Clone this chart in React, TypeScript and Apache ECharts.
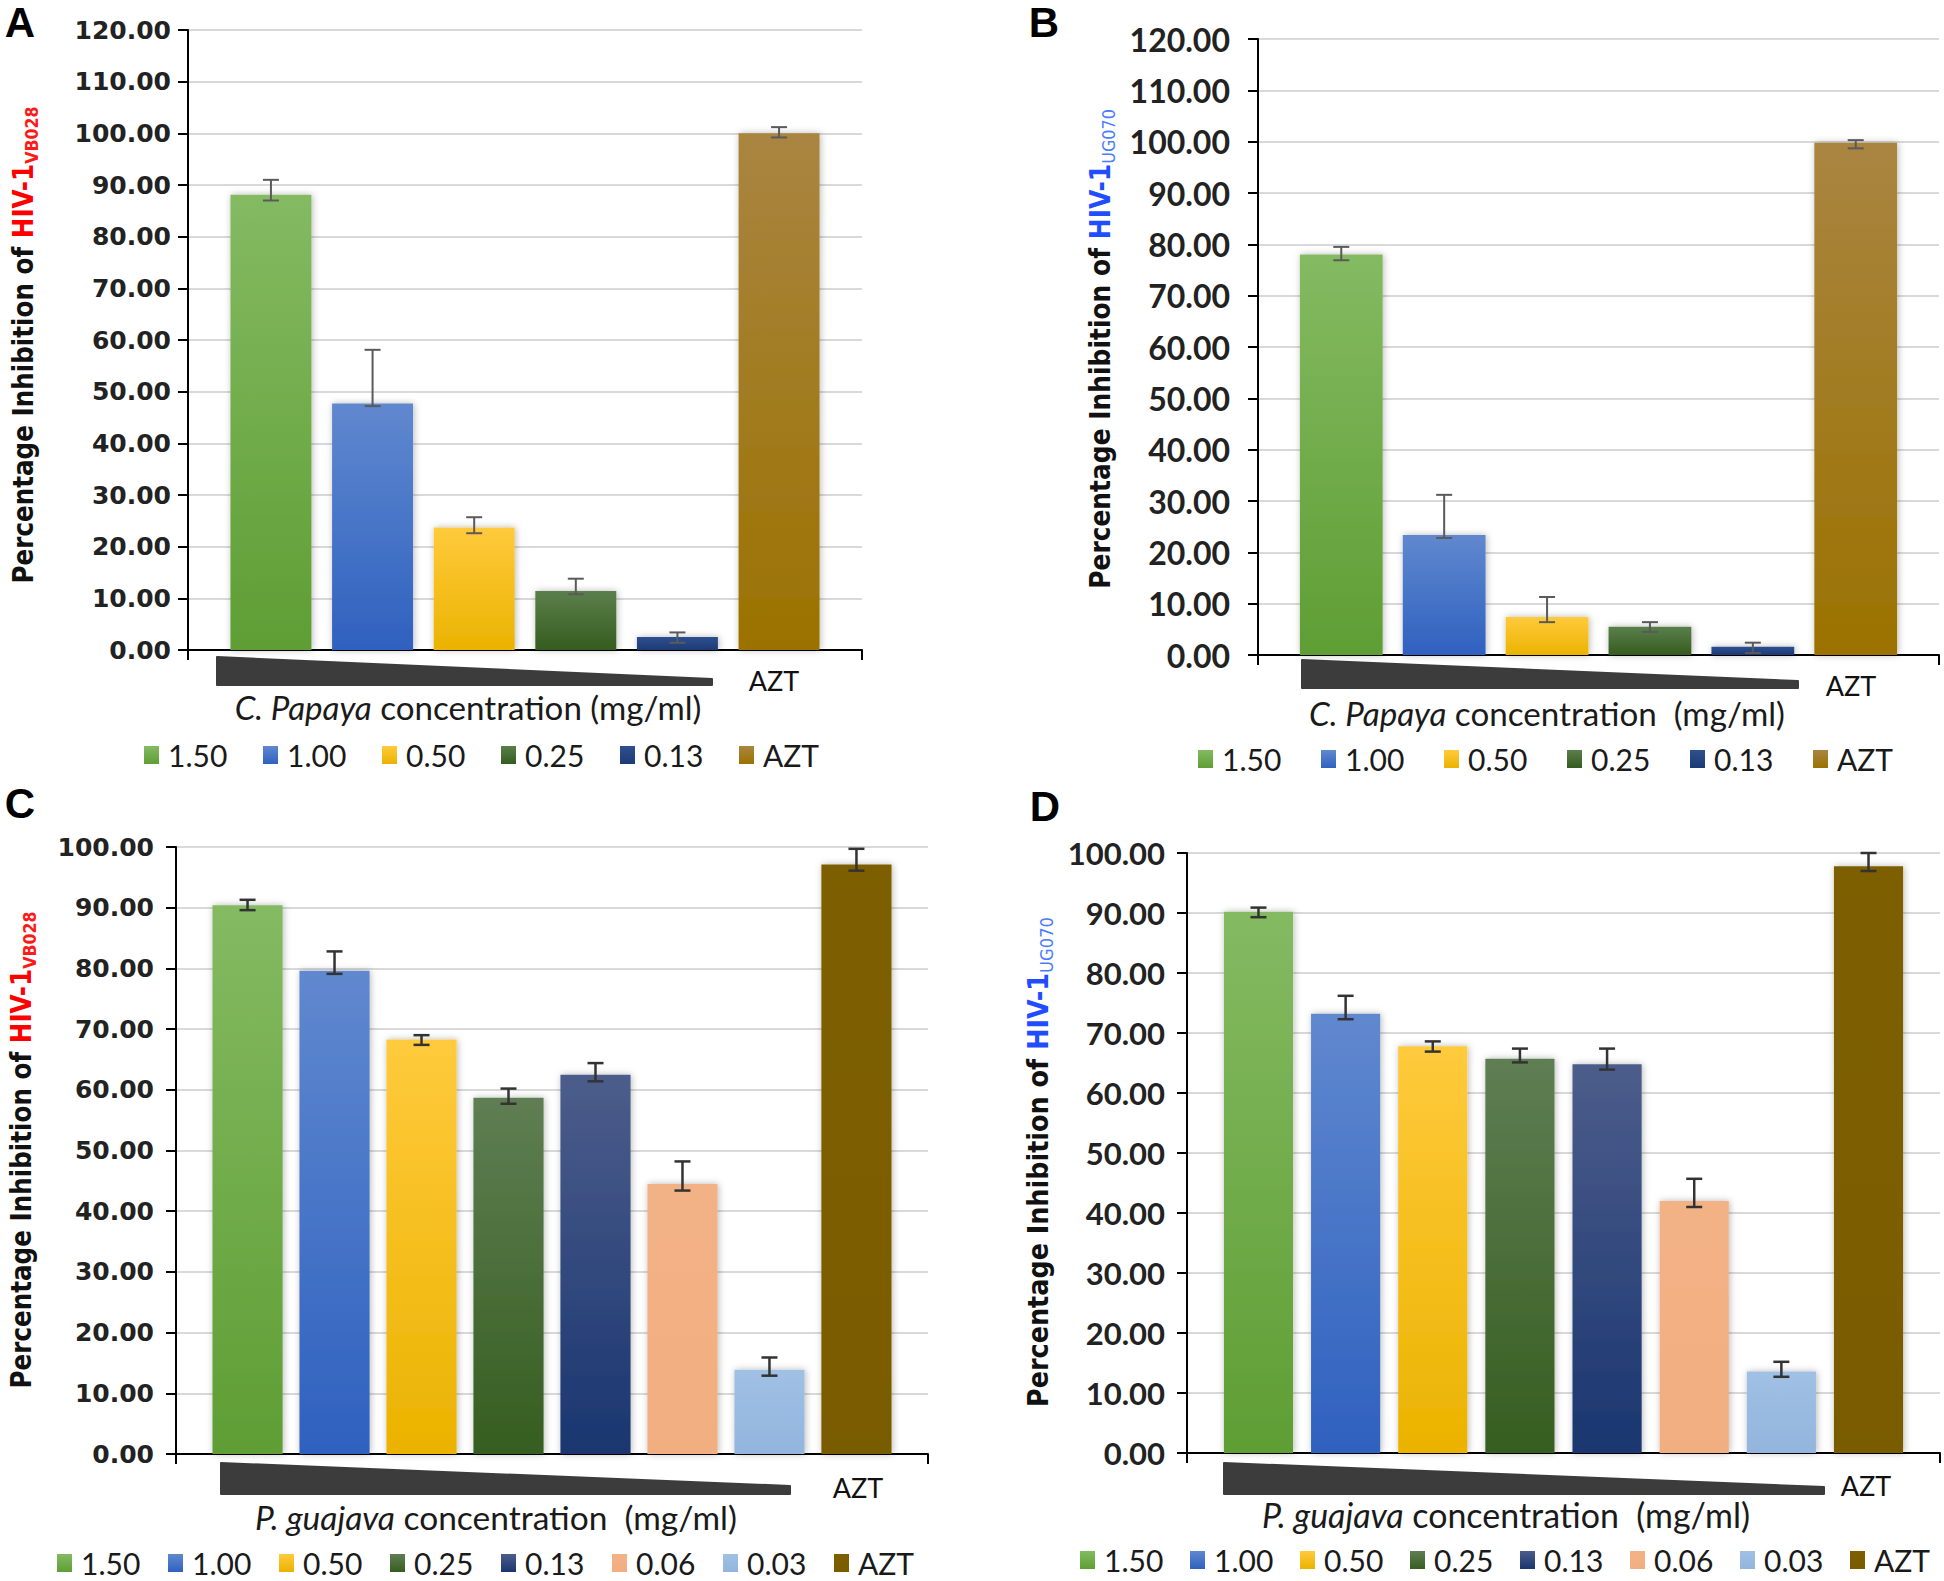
import React, { useEffect, useRef } from "react";
import * as echarts from "echarts";

// ---------------- DATA ----------------
const CATEGORIES_AB = ["1.50", "1.00", "0.50", "0.25", "0.13", "AZT"];
const CATEGORIES_CD = ["1.50", "1.00", "0.50", "0.25", "0.13", "0.06", "0.03", "AZT"];

const VALUES_A = [88.1, 47.7, 23.7, 11.4, 2.5, 100.0];
const ERR_LOW_A = [87.0, 47.2, 22.6, 10.8, 1.4, 99.2];
const ERR_HIGH_A = [91.0, 58.1, 25.7, 13.8, 3.4, 101.2];

const VALUES_B = [78.0, 23.4, 7.4, 5.5, 1.6, 99.8];
const ERR_LOW_B = [76.9, 22.8, 6.4, 4.5, 0.4, 98.7];
const ERR_HIGH_B = [79.5, 31.2, 11.3, 6.4, 2.4, 100.3];

const VALUES_C = [90.4, 79.6, 68.3, 58.7, 62.5, 44.5, 13.9, 97.1];
const ERR_LOW_C = [89.6, 79.1, 67.4, 57.7, 61.4, 43.4, 12.9, 96.1];
const ERR_HIGH_C = [91.3, 82.8, 69.0, 60.2, 64.4, 48.2, 15.9, 99.7];

const VALUES_D = [90.2, 73.2, 67.8, 65.7, 64.8, 42.0, 13.6, 97.8];
const ERR_LOW_D = [89.3, 72.3, 66.9, 65.1, 63.9, 41.0, 12.7, 97.0];
const ERR_HIGH_D = [90.9, 76.2, 68.6, 67.4, 67.4, 45.7, 15.2, 100.0];

const Y_MAX_AB = 120;
const Y_MAX_CD = 100;
const Y_STEP = 10;

// ---------------- STYLES ----------------
const COLORS_AB: Record<string, [string, string]> = {
  "1.50": ["#84ba62", "#5f9e34"],
  "1.00": ["#6088cf", "#2f61bf"],
  "0.50": ["#ffca3c", "#ebb300"],
  "0.25": ["#5b7f4b", "#355c1f"],
  "0.13": ["#2e5090", "#1d3a74"],
  AZT: ["#a98541", "#9b7200"],
};
const COLORS_CD: Record<string, [string, string]> = {
  "1.50": ["#84ba62", "#5f9e34"],
  "1.00": ["#6088cf", "#2f61bf"],
  "0.50": ["#ffca3c", "#ebb300"],
  "0.25": ["#5f7e53", "#365e20"],
  "0.13": ["#4c5d8b", "#1a3670"],
  "0.06": ["#f3b286", "#f1ae80"],
  "0.03": ["#a0c0e4", "#93b5dd"],
  AZT: ["#7d5f00", "#7a5c00"],
};

let measureCtx: CanvasRenderingContext2D | null = null;
function textWidth(text: string, font: string): number {
  if (!measureCtx) {
    const c = document.createElement("canvas");
    measureCtx = c.getContext("2d");
  }
  measureCtx!.font = font;
  return measureCtx!.measureText(text).width;
}

interface PanelCfg {
  letter: string;
  box: { left: number; top: number; w: number; h: number };
  cats: string[];
  values: number[];
  lo: number[];
  hi: number[];
  colors: Record<string, [string, string]>;
  yMax: number;
  grid: { left: number; top: number; width: number; height: number };
  yLabelFamily: string;
  yLabelSize: number;
  yLabelMargin: number;
  legend: { left: number; top: number; spacing: number };
  barCatGap: number;
  barGap: number;
  errColor: string;
  errWidth: number;
  xTitle: { italic: string; rest: string; x: number; y: number; width: number };
  azt: { x: number; y: number };
  wedge: { x1: number; x2: number; yTop: number; yRightTop: number; yBottom: number };
  yTitle: { x: number; y: number; length: number; strainColor: string; subColor: string; sub: string; subBold: boolean };
  letterPos: { x: number; y: number };
}

const PANELS: PanelCfg[] = [
  {
    letter: "A",
    box: { left: 0, top: 0, w: 972, h: 780 },
    cats: CATEGORIES_AB,
    values: VALUES_A,
    lo: ERR_LOW_A,
    hi: ERR_HIGH_A,
    colors: COLORS_AB,
    yMax: Y_MAX_AB,
    grid: { left: 188, top: 30, width: 674, height: 620 },
    yLabelFamily: '"DejaVu Sans"',
    yLabelSize: 25,
    yLabelMargin: 17,
    legend: { left: 139, top: 735, spacing: 119 },
    barCatGap: 12.6,
    barGap: 25.5,
    errColor: "#5a5a5a",
    errWidth: 2,
    xTitle: { italic: "C. Papaya", rest: " concentration (mg/ml)", x: 468, y: 707, width: 467 },
    azt: { x: 774, y: 680 },
    wedge: { x1: 217, x2: 712, yTop: 657, yRightTop: 679, yBottom: 685 },
    yTitle: { x: 23, y: 345, length: 477, strainColor: "#ff0000", subColor: "#ff1a1a", sub: "VB028", subBold: true },
    letterPos: { x: 20, y: 22 },
  },
  {
    letter: "B",
    box: { left: 972, top: 0, w: 972, h: 780 },
    cats: CATEGORIES_AB,
    values: VALUES_B,
    lo: ERR_LOW_B,
    hi: ERR_HIGH_B,
    colors: COLORS_AB,
    yMax: Y_MAX_AB,
    grid: { left: 286, top: 39, width: 681, height: 616 },
    yLabelFamily: "Lato",
    yLabelSize: 32,
    yLabelMargin: 28,
    legend: { left: 221, top: 739, spacing: 123 },
    barCatGap: 12.3,
    barGap: 24.3,
    errColor: "#5a5a5a",
    errWidth: 2,
    xTitle: { italic: "C. Papaya", rest: " concentration  (mg/ml)", x: 575, y: 713, width: 476 },
    azt: { x: 879, y: 685 },
    wedge: { x1: 330, x2: 826, yTop: 660, yRightTop: 681, yBottom: 688 },
    yTitle: { x: 128, y: 349, length: 480, strainColor: "#1f4dff", subColor: "#4a7cff", sub: "UG070", subBold: false },
    letterPos: { x: 72, y: 22 },
  },
  {
    letter: "C",
    box: { left: 0, top: 780, w: 972, h: 801 },
    cats: CATEGORIES_CD,
    values: VALUES_C,
    lo: ERR_LOW_C,
    hi: ERR_HIGH_C,
    colors: COLORS_CD,
    yMax: Y_MAX_CD,
    grid: { left: 176, top: 67, width: 752, height: 607 },
    yLabelFamily: '"DejaVu Sans"',
    yLabelSize: 25,
    yLabelMargin: 22,
    legend: { left: 52, top: 763, spacing: 111 },
    barCatGap: 9.7,
    barGap: 24,
    errColor: "#333333",
    errWidth: 2.5,
    xTitle: { italic: "P. guajava", rest: " concentration  (mg/ml)", x: 496, y: 737, width: 482 },
    azt: { x: 858, y: 707 },
    wedge: { x1: 221, x2: 790, yTop: 683, yRightTop: 706, yBottom: 714 },
    yTitle: { x: 21, y: 370, length: 477, strainColor: "#ff0000", subColor: "#ff1a1a", sub: "VB028", subBold: true },
    letterPos: { x: 20, y: 23 },
  },
  {
    letter: "D",
    box: { left: 972, top: 780, w: 972, h: 801 },
    cats: CATEGORIES_CD,
    values: VALUES_D,
    lo: ERR_LOW_D,
    hi: ERR_HIGH_D,
    colors: COLORS_CD,
    yMax: Y_MAX_CD,
    grid: { left: 215, top: 73, width: 753, height: 600 },
    yLabelFamily: "Lato",
    yLabelSize: 31,
    yLabelMargin: 22,
    legend: { left: 103, top: 760, spacing: 110 },
    barCatGap: 9.8,
    barGap: 26,
    errColor: "#333333",
    errWidth: 2.5,
    xTitle: { italic: "P. guajava", rest: " concentration  (mg/ml)", x: 534, y: 735, width: 488 },
    azt: { x: 894, y: 705 },
    wedge: { x1: 252, x2: 852, yTop: 683, yRightTop: 707, yBottom: 714 },
    yTitle: { x: 66, y: 382, length: 490, strainColor: "#1f4dff", subColor: "#4a7cff", sub: "UG070", subBold: false },
    letterPos: { x: 73, y: 26 },
  },
];

function buildOption(cfg: PanelCfg): any {
  const n = cfg.cats.length;
  const catGap = cfg.barCatGap;
  const gap = cfg.barGap;

  const barSeries = cfg.cats.map((c, i) => ({
    type: "bar",
    name: c,
    data: [cfg.values[i]],
    barGap: gap + "%",
    barCategoryGap: catGap + "%",
    itemStyle: {
      color: new echarts.graphic.LinearGradient(0, 0, 0, 1, [
        { offset: 0, color: cfg.colors[c][0] },
        { offset: 1, color: cfg.colors[c][1] },
      ]),
      shadowBlur: 7,
      shadowColor: "rgba(0,0,0,0.28)",
      shadowOffsetX: 1,
    },
    emphasis: { disabled: true },
    z: 2,
  }));

  const errSeries = {
    type: "custom",
    name: "error",
    data: cfg.cats.map((_, i) => [0, cfg.lo[i], cfg.hi[i], i]),
    encode: { x: 0, y: [1, 2] },
    z: 10,
    silent: true,
    renderItem: (_params: any, api: any) => {
      const idx = api.value(3);
      const pLo = api.coord([0, api.value(1)]);
      const pHi = api.coord([0, api.value(2)]);
      const band = api.size([1, 0])[0];
      const usable = band * (1 - catGap / 100);
      const bw = usable / (n + (n - 1) * (gap / 100));
      const x = pLo[0] - usable / 2 + bw / 2 + idx * bw * (1 + gap / 100);
      const cap = 8;
      const st = { stroke: cfg.errColor, lineWidth: cfg.errWidth };
      return {
        type: "group",
        children: [
          { type: "line", shape: { x1: x, y1: pHi[1], x2: x, y2: pLo[1] }, style: st },
          { type: "line", shape: { x1: x - cap, y1: pHi[1], x2: x + cap, y2: pHi[1] }, style: st },
          { type: "line", shape: { x1: x - cap, y1: pLo[1], x2: x + cap, y2: pLo[1] }, style: st },
        ],
      };
    },
  };

  // legend sizing
  const legendFont = "30px Lato";
  const digitW = textWidth("1.50", legendFont);
  const itemGap = Math.max(4, cfg.legend.spacing - (15 + 5 + 4 + digitW));

  // x title sizing
  const baseX = 30;
  const wX =
    textWidth(cfg.xTitle.italic, `italic ${baseX}px Lato`) + textWidth(cfg.xTitle.rest, `${baseX}px Lato`);
  const fsX = (baseX * cfg.xTitle.width) / wX;

  // y title sizing
  const mainFont = 'bold 28px "DejaVu Sans"';
  const subFont = `${cfg.yTitle.subBold ? "bold " : ""}18px "DejaVu Sans"`;
  const wY =
    textWidth("Percentage Inhibition of ", mainFont) +
    textWidth("HIV-1", mainFont) +
    textWidth(cfg.yTitle.sub, subFont);
  const scaleY = cfg.yTitle.length / wY;

  const w = cfg.wedge;

  return {
    animation: false,
    backgroundColor: "#ffffff",
    grid: { ...cfg.grid, containLabel: false },
    legend: {
      data: cfg.cats,
      left: cfg.legend.left,
      top: cfg.legend.top,
      orient: "horizontal",
      icon: "rect",
      itemWidth: 15,
      itemHeight: 18,
      itemGap,
      selectedMode: false,
      itemStyle: { shadowBlur: 0, shadowColor: "transparent", shadowOffsetX: 0 },
      textStyle: { fontFamily: "Lato", fontSize: 30, color: "#1a1a1a", padding: [0, 0, 0, 4], lineHeight: 26 },
    },
    xAxis: {
      type: "category",
      data: [""],
      axisLine: { show: true, lineStyle: { color: "#000", width: 2 } },
      axisTick: { show: true, inside: false, length: 10, lineStyle: { color: "#000", width: 2 } },
      axisLabel: { show: false },
      splitLine: { show: false },
    },
    yAxis: {
      type: "value",
      min: 0,
      max: cfg.yMax,
      interval: Y_STEP,
      axisLine: { show: true, lineStyle: { color: "#000", width: 2 } },
      axisTick: { show: true, inside: false, length: 10, lineStyle: { color: "#000", width: 2 } },
      axisLabel: {
        formatter: (v: number) => v.toFixed(2),
        fontFamily: cfg.yLabelFamily,
        fontWeight: "bold",
        fontSize: cfg.yLabelSize,
        color: "#222",
        margin: cfg.yLabelMargin,
      },
      splitLine: { show: true, lineStyle: { color: "#d9d9d9", width: 2 } },
    },
    series: [...barSeries, errSeries],
    graphic: [
      {
        type: "text",
        x: cfg.letterPos.x,
        y: cfg.letterPos.y,
        style: {
          text: cfg.letter,
          font: 'bold 42px "Liberation Sans", Arial, sans-serif',
          fill: "#000",
          align: "center",
          verticalAlign: "middle",
          textAlign: "center",
          textVerticalAlign: "middle",
        },
      },
      {
        type: "text",
        x: cfg.yTitle.x,
        y: cfg.yTitle.y,
        rotation: Math.PI / 2,
        scaleX: scaleY,
        scaleY: 1,
        style: {
          text: `{a|Percentage Inhibition of }{r|HIV-1}{s|${cfg.yTitle.sub}}`,
          align: "center",
          verticalAlign: "middle",
          textAlign: "center",
          textVerticalAlign: "middle",
          rich: {
            a: { fontFamily: "DejaVu Sans", fontWeight: "bold", fontSize: 28, fill: "#111", color: "#111", lineHeight: 36 },
            r: {
              fontFamily: "DejaVu Sans",
              fontWeight: "bold",
              fontSize: 28,
              fill: cfg.yTitle.strainColor,
              color: cfg.yTitle.strainColor,
              lineHeight: 36,
            },
            s: {
              fontFamily: "DejaVu Sans",
              fontWeight: cfg.yTitle.subBold ? "bold" : "normal",
              fontSize: 18,
              fill: cfg.yTitle.subColor,
              color: cfg.yTitle.subColor,
              lineHeight: 18,
              verticalAlign: "bottom",
            },
          },
        },
      },
      {
        type: "text",
        x: cfg.xTitle.x,
        y: cfg.xTitle.y,
        style: {
          text: `{i|${cfg.xTitle.italic}}{n|${cfg.xTitle.rest}}`,
          align: "center",
          verticalAlign: "middle",
          textAlign: "center",
          textVerticalAlign: "middle",
          rich: {
            i: { fontFamily: "Lato", fontStyle: "italic", fontSize: fsX, fill: "#1a1a1a", color: "#1a1a1a" },
            n: { fontFamily: "Lato", fontSize: fsX, fill: "#1a1a1a", color: "#1a1a1a" },
          },
        },
      },
      {
        type: "text",
        x: cfg.azt.x,
        y: cfg.azt.y,
        style: {
          text: "AZT",
          font: "27px Lato",
          fill: "#111",
          align: "center",
          verticalAlign: "middle",
          textAlign: "center",
          textVerticalAlign: "middle",
        },
      },
      {
        type: "polygon",
        shape: {
          points: [
            [w.x1, w.yTop],
            [w.x2, w.yRightTop],
            [w.x2, w.yBottom],
            [w.x1, w.yBottom],
          ],
        },
        style: { fill: "#3c3c3c", stroke: "#3c3c3c", lineWidth: 2, lineJoin: "round" },
      },
    ],
  };
}

function Panel({ cfg }: { cfg: PanelCfg }) {
  const ref = useRef<HTMLDivElement>(null);
  useEffect(() => {
    if (!ref.current) return;
    const chart = echarts.init(ref.current, undefined, { renderer: "svg" });
    chart.setOption(buildOption(cfg));
    return () => chart.dispose();
  }, [cfg]);
  return (
    <div
      ref={ref}
      style={{ position: "absolute", left: cfg.box.left, top: cfg.box.top, width: cfg.box.w, height: cfg.box.h }}
    />
  );
}

export default function App() {
  return (
    <div style={{ position: "absolute", left: 0, top: 0, width: 1944, height: 1581, background: "#fff", overflow: "hidden" }}>
      {PANELS.map((p) => (
        <Panel key={p.letter} cfg={p} />
      ))}
    </div>
  );
}
